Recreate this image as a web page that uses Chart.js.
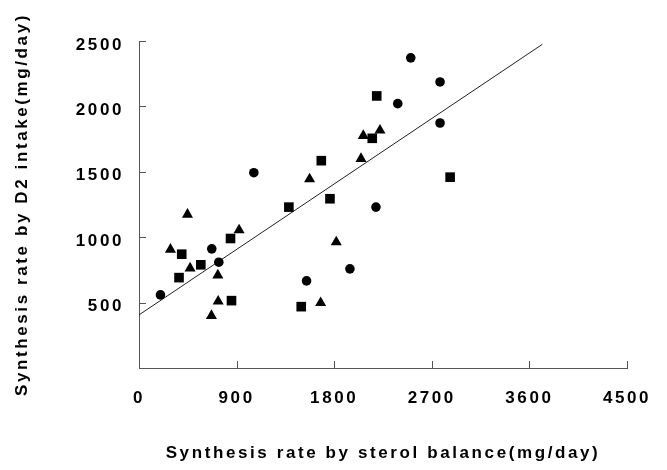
<!DOCTYPE html>
<html>
<head>
<meta charset="utf-8">
<script src="https://cdn.jsdelivr.net/npm/chart.js@4.4.1/dist/chart.umd.min.js"></script>
<style>
  html, body { margin: 0; padding: 0; background: #fff; }
  canvas { display: block; }
</style>
</head>
<body>
<canvas id="c" width="667" height="470"></canvas>
<script>
// ---- data ----
const xTicks = [0, 900, 1800, 2700, 3600, 4500];
const yTicks = [500, 1000, 1500, 2000, 2500];

const circleX = [198, 671, 736, 1059, 1545, 1945, 2185, 2386, 2506, 2776, 2776];
const circleY = [559, 911, 809, 1493, 666, 758, 1230, 2021, 2371, 2187, 1873];

const squareX = [369, 394, 570, 844, 853, 1382, 1496, 1681, 1761, 2151, 2192, 2869];
const squareY = [691, 870, 789, 990, 515, 1230, 469, 1585, 1294, 1756, 2080, 1459];

const triX = [290, 447, 471, 668, 727, 730, 923, 1573, 1675, 1819, 2047, 2068, 2222];
const triY = [906, 1174, 763, 400, 709, 510, 1054, 1444, 498, 962, 1600, 1776, 1817];

const fitX = [0, 3720];
const fitY = [406, 2475];

const xTitle = 'Synthesis rate by sterol balance(mg/day)';
const yTitle = 'Synthesis rate by D2 intake(mg/day)';

const pts = (xs, ys) => xs.map((x, i) => ({ x: x, y: ys[i] }));

const LS = '2.6px';
const spacing = {
  id: 'spacing',
  beforeUpdate(c) { c.ctx.letterSpacing = LS; },
  beforeLayout(c) { c.ctx.letterSpacing = LS; },
  beforeDraw(c) { c.ctx.letterSpacing = LS; }
};

const innerTicks = {
  id: 'innerTicks',
  afterDraw(c) {
    const ctx = c.ctx, xs = c.scales.x, ys = c.scales.y;
    ctx.save();
    ctx.strokeStyle = '#555';
    ctx.lineWidth = 1;
    ctx.beginPath();
    xs.ticks.forEach(t => {
      if (t.value === 0) return;
      const px = Math.round(xs.getPixelForValue(t.value)) + 0.5;
      ctx.moveTo(px, ys.bottom);
      ctx.lineTo(px, ys.bottom - 7);
    });
    ys.ticks.forEach(t => {
      if (t.value === 0) return;
      const py = Math.round(ys.getPixelForValue(t.value)) + 0.5;
      ctx.moveTo(xs.left, py);
      ctx.lineTo(xs.left + 7, py);
    });
    ctx.stroke();
    ctx.restore();
  }
};

const font = { family: '"Liberation Sans", Arial, sans-serif', size: 17, weight: 'bold' };
const plain = v => String(v);

new Chart(document.getElementById('c'), {
  type: 'scatter',
  data: {
    datasets: [
      {
        label: 'circle', data: pts(circleX, circleY),
        pointStyle: 'circle', radius: 4.8, backgroundColor: '#000', borderColor: '#000', borderWidth: 0
      },
      {
        label: 'square', data: pts(squareX, squareY),
        pointStyle: 'rect', radius: 6.8, backgroundColor: '#000', borderColor: '#000', borderWidth: 0
      },
      {
        label: 'triangle', data: pts(triX, triY),
        pointStyle: 'triangle', radius: 6.4, backgroundColor: '#000', borderColor: '#000', borderWidth: 0
      },
      {
        type: 'line', label: 'fit', data: pts(fitX, fitY),
        borderColor: '#222', borderWidth: 1, pointRadius: 0, fill: false, showLine: true
      }
    ]
  },
  options: {
    responsive: false,
    animation: false,
    devicePixelRatio: 1,
    layout: { padding: { left: 0, top: 41, right: 40, bottom: 0 } },
    plugins: { legend: { display: false }, tooltip: { enabled: false } },
    scales: {
      x: {
        type: 'linear', min: 0, max: 4500,
        afterBuildTicks: s => { s.ticks = xTicks.map(v => ({ value: v })); },
        grid: { display: false },
        border: { display: true, color: '#555', width: 1 },
        ticks: { color: '#000', font: font, padding: 12, maxRotation: 0, callback: plain },
        title: { display: true, text: xTitle, color: '#000', font: font, padding: { top: 0, bottom: 6 } },
        afterFit: s => { s.height = 102; }
      },
      y: {
        type: 'linear', min: 0, max: 2500,
        afterBuildTicks: s => { s.ticks = yTicks.map(v => ({ value: v })); },
        grid: { display: false },
        border: { display: true, color: '#555', width: 1 },
        ticks: { color: '#000', font: font, padding: 7, labelOffset: 4, callback: plain },
        title: { display: true, text: yTitle, color: '#000', font: font, padding: { top: 12, bottom: 0 } },
        afterFit: s => { s.width = 139; }
      }
    }
  },
  plugins: [spacing, innerTicks]
});
</script>
</body>
</html>
